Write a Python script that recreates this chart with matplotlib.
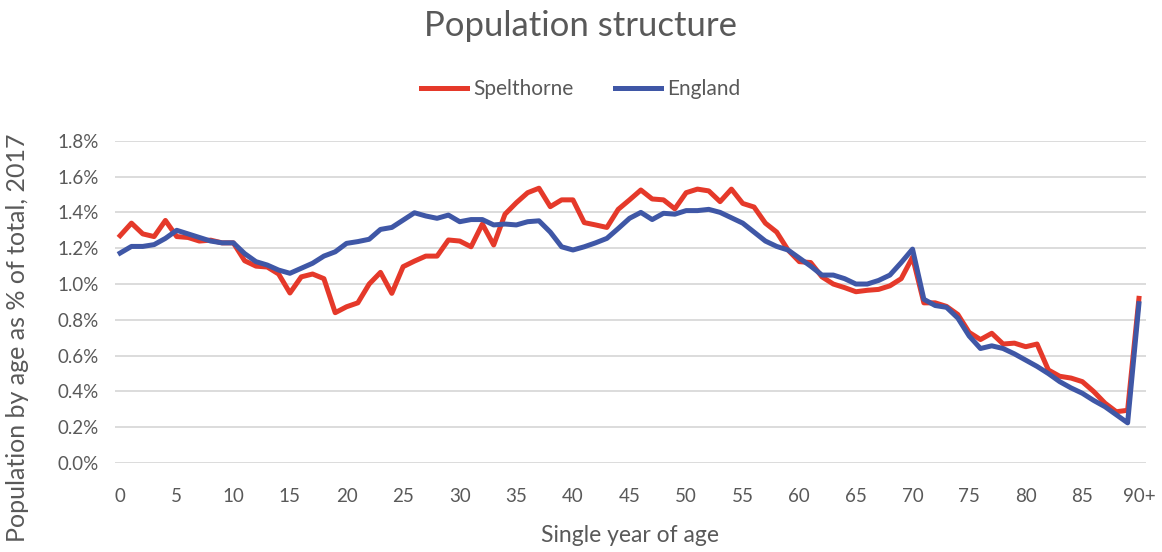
import matplotlib.pyplot as plt
from matplotlib.ticker import FuncFormatter

plt.rcParams['font.family'] = ['Lato', 'DejaVu Sans']

ages = list(range(91))
age_labels = [str(a) if a % 5 == 0 else '' for a in ages]
age_labels[90] = '90+'

# share of total population at each single year of age (%)
spelthorne = [1.27, 1.34, 1.28, 1.265, 1.355, 1.265, 1.26, 1.24, 1.245, 1.23,
              1.23, 1.13, 1.10, 1.095, 1.056, 0.95, 1.04, 1.056, 1.03, 0.84,
              0.873, 0.895, 1.00, 1.065, 0.948, 1.097, 1.128, 1.156, 1.156, 1.246,
              1.24, 1.208, 1.335, 1.218, 1.39, 1.454, 1.51, 1.535, 1.432, 1.47,
              1.47, 1.343, 1.33, 1.316, 1.417, 1.47, 1.525, 1.475, 1.47, 1.42,
              1.51, 1.53, 1.52, 1.46, 1.53, 1.45, 1.43, 1.34, 1.29, 1.19,
              1.125, 1.12, 1.04, 1.00, 0.98, 0.957, 0.965, 0.97, 0.99, 1.03,
              1.15, 0.895, 0.895, 0.875, 0.83, 0.73, 0.69, 0.725, 0.665, 0.67,
              0.65, 0.665, 0.52, 0.485, 0.475, 0.455, 0.40, 0.335, 0.287, 0.295,
              0.92]
england = [1.173, 1.21, 1.21, 1.22, 1.255, 1.30, 1.28, 1.26, 1.24, 1.23,
           1.23, 1.17, 1.125, 1.106, 1.078, 1.06, 1.088, 1.116, 1.156, 1.18,
           1.227, 1.237, 1.25, 1.305, 1.316, 1.357, 1.398, 1.38, 1.367, 1.385,
           1.348, 1.36, 1.36, 1.33, 1.335, 1.33, 1.348, 1.353, 1.29, 1.208,
           1.19, 1.208, 1.23, 1.255, 1.31, 1.367, 1.40, 1.36, 1.395, 1.39,
           1.41, 1.41, 1.417, 1.40, 1.37, 1.34, 1.29, 1.24, 1.21, 1.19,
           1.145, 1.10, 1.05, 1.05, 1.03, 1.00, 1.00, 1.02, 1.05, 1.12,
           1.195, 0.915, 0.88, 0.87, 0.81, 0.71, 0.64, 0.655, 0.64, 0.61,
           0.575, 0.54, 0.50, 0.455, 0.42, 0.39, 0.35, 0.315, 0.27, 0.225,
           0.89]

text_col = '#595959'
fig, ax = plt.subplots(figsize=(11.62, 5.52), dpi=100)
fig.subplots_adjust(left=0.099, right=0.986, top=0.745, bottom=0.161)

ax.plot(ages, spelthorne, color='#E5392A', lw=3.6, label='Spelthorne',
        solid_joinstyle='round')
ax.plot(ages, england, color='#3F57A6', lw=3.6, label='England',
        solid_joinstyle='round')

ax.set_ylim(0, 1.8)
ax.set_yticks([i * 0.2 for i in range(10)])
ax.yaxis.set_major_formatter(FuncFormatter(lambda v, p: f'{v:.1f}%'))
ax.set_xlim(-0.45, 90.6)
ax.set_xticks(ages)
ax.set_xticklabels(age_labels)
ax.tick_params(axis='both', length=0, labelsize=13.5, colors=text_col)
ax.tick_params(axis='x', pad=18)
ax.tick_params(axis='y', pad=12)
ax.grid(axis='y', color='#D9D9D9', lw=1.3)
ax.set_axisbelow(True)
for s in ax.spines.values():
    s.set_visible(False)

ax.set_xlabel('Single year of age', fontsize=16.5, color=text_col, labelpad=14)
ax.set_ylabel('Population by age as % of total, 2017', fontsize=18,
              color=text_col)
ax.yaxis.set_label_coords(-0.083, 0.39)
fig.suptitle('Population structure', fontsize=25, color=text_col, y=0.982)
fig.legend(loc='center', bbox_to_anchor=(0.5, 0.838), ncol=2, frameon=False,
           fontsize=15, labelcolor=text_col, handlelength=2.2,
           handletextpad=0.3, columnspacing=2.0)

plt.savefig('out.png', dpi=100)
